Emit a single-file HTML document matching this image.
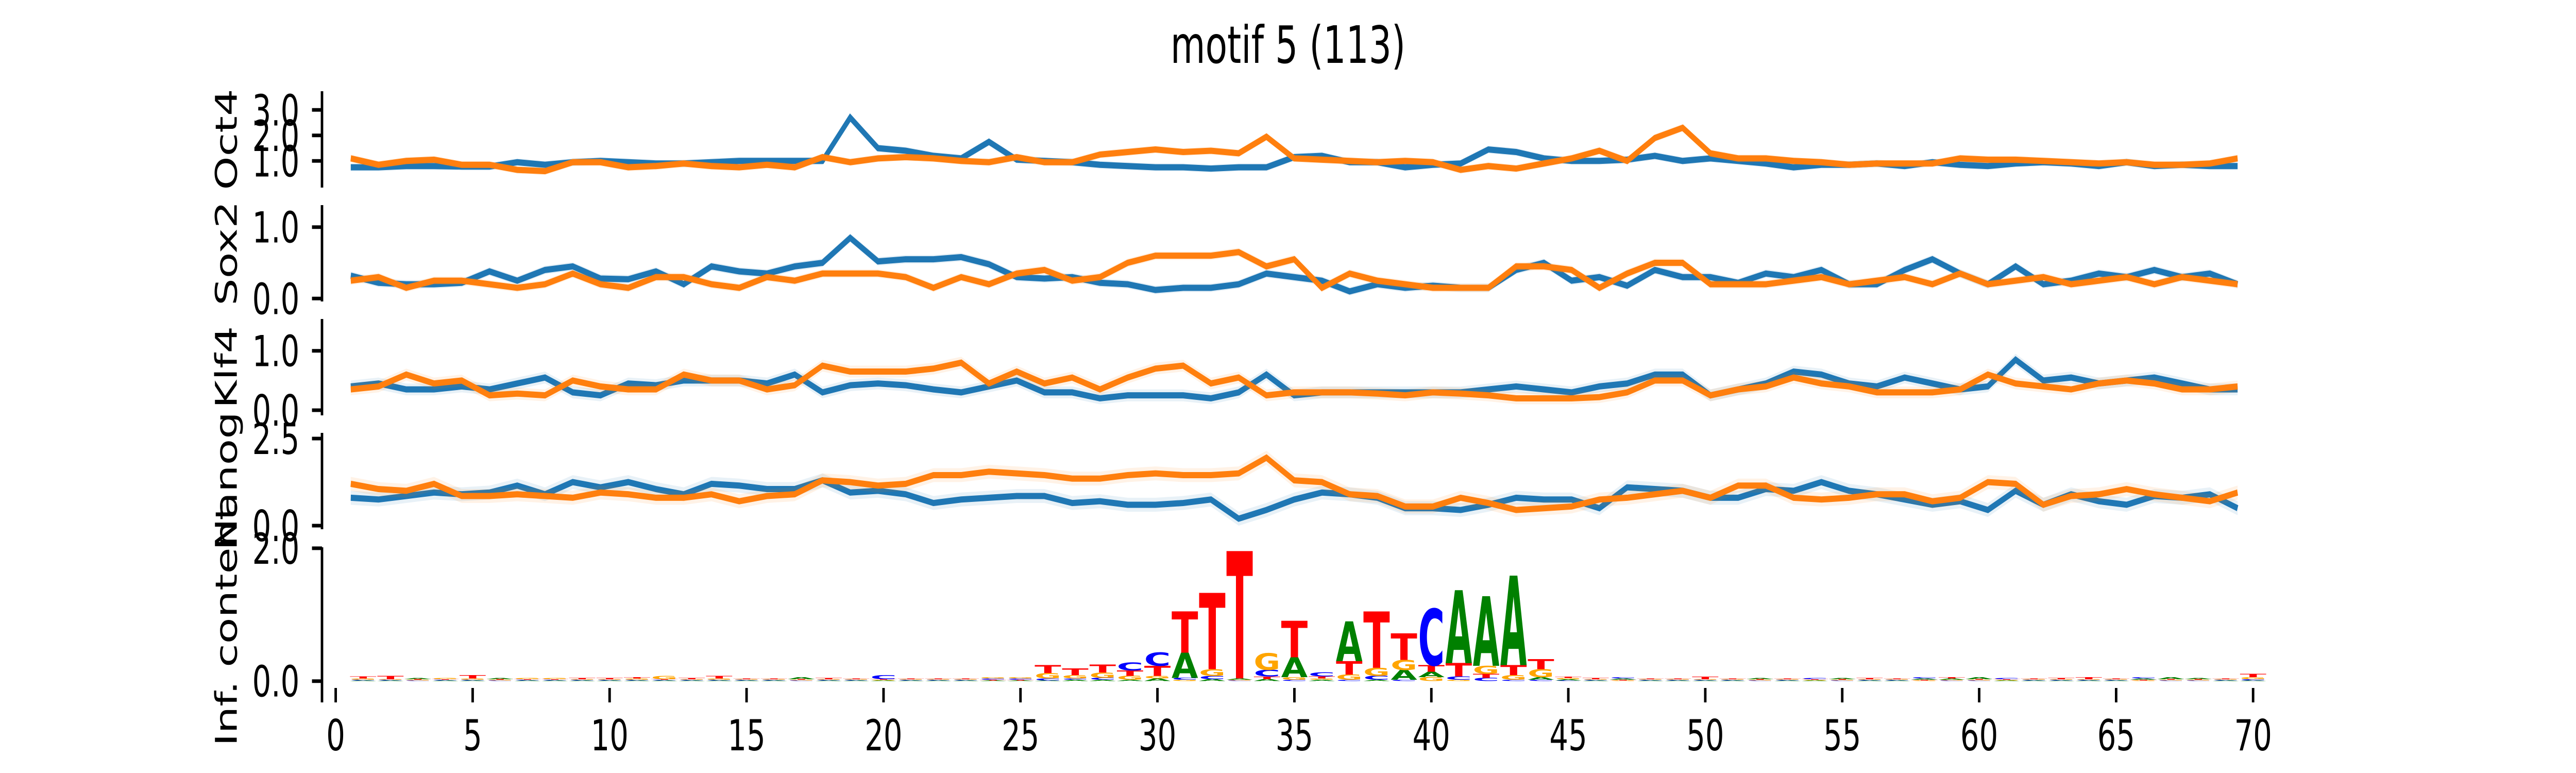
<!DOCTYPE html>
<html><head><meta charset="utf-8"><style>
html,body{margin:0;padding:0;background:#fff;overflow:hidden;width:100%;height:100%;}
svg{display:block;width:100vw;height:100vh;}
text{font-family:"DejaVu Sans","Liberation Sans",sans-serif;}
</style></head>
<body>
<svg id="fig" xmlns="http://www.w3.org/2000/svg" viewBox="0 0 7200 1500" preserveAspectRatio="none">
<rect width="7200" height="1500" fill="#fff"/>
<text x="3600" y="122" font-size="100" text-anchor="middle">motif 5 (113)</text>
<g id="axes"></g>
</svg>
<script>
// ---- line chart data (69 positions) ----
const oct4Blue=[0.75,0.75,0.8,0.8,0.78,0.78,0.95,0.85,0.95,1.0,
0.95,0.9,0.9,0.95,1.0,1.0,1.0,1.0,2.7,1.5,
1.4,1.2,1.1,1.75,1.05,1.0,0.95,0.85,0.8,0.75,
0.75,0.7,0.75,0.75,1.15,1.2,0.95,0.95,0.75,0.85,
0.9,1.45,1.35,1.1,1.0,1.0,1.05,1.2,1.0,1.1,
1.0,0.9,0.75,0.85,0.85,0.9,0.8,0.95,0.85,0.8,
0.9,0.95,0.9,0.8,0.95,0.8,0.85,0.8,0.8];
const oct4Orange=[1.1,0.85,1.0,1.05,0.85,0.85,0.65,0.6,0.95,0.95,
0.75,0.8,0.9,0.8,0.75,0.85,0.75,1.15,0.95,1.1,
1.15,1.1,1.0,0.95,1.15,0.95,0.95,1.25,1.35,1.45,
1.35,1.4,1.3,1.95,1.1,1.05,1.0,0.95,1.0,0.95,
0.65,0.8,0.7,0.9,1.1,1.4,1.0,1.9,2.3,1.3,
1.1,1.1,1.0,0.95,0.85,0.9,0.9,0.9,1.1,1.05,
1.05,1.0,0.95,0.9,0.95,0.85,0.85,0.9,1.1];
const sox2Blue=[0.32,0.22,0.2,0.2,0.22,0.38,0.25,0.4,0.45,0.28,
0.27,0.38,0.2,0.45,0.38,0.35,0.45,0.5,0.85,0.52,
0.55,0.55,0.58,0.48,0.3,0.28,0.3,0.22,0.2,0.12,
0.15,0.15,0.2,0.35,0.3,0.25,0.1,0.2,0.15,0.18,
0.15,0.15,0.4,0.5,0.25,0.3,0.18,0.4,0.3,0.3,
0.22,0.35,0.3,0.4,0.2,0.2,0.4,0.55,0.35,0.2,
0.45,0.2,0.25,0.35,0.3,0.4,0.3,0.35,0.2];
const sox2Orange=[0.25,0.3,0.15,0.25,0.25,0.2,0.15,0.2,0.35,0.2,
0.15,0.3,0.3,0.2,0.15,0.3,0.25,0.35,0.35,0.35,
0.3,0.15,0.3,0.2,0.35,0.4,0.25,0.3,0.5,0.6,
0.6,0.6,0.65,0.45,0.55,0.15,0.35,0.25,0.2,0.15,
0.15,0.15,0.45,0.45,0.4,0.15,0.35,0.5,0.5,0.2,
0.2,0.2,0.25,0.3,0.2,0.25,0.3,0.2,0.35,0.2,
0.25,0.3,0.2,0.25,0.3,0.2,0.3,0.25,0.2];
const klf4Blue=[0.4,0.45,0.35,0.35,0.4,0.35,0.45,0.55,0.3,0.25,
0.45,0.42,0.5,0.5,0.5,0.45,0.6,0.3,0.42,0.45,
0.42,0.35,0.3,0.4,0.5,0.3,0.3,0.2,0.25,0.25,
0.25,0.2,0.3,0.6,0.25,0.3,0.3,0.3,0.3,0.3,
0.3,0.35,0.4,0.35,0.3,0.4,0.45,0.6,0.6,0.25,
0.35,0.45,0.65,0.6,0.45,0.4,0.55,0.45,0.35,0.4,
0.85,0.5,0.55,0.45,0.5,0.55,0.45,0.35,0.35];
const klf4Orange=[0.35,0.4,0.6,0.45,0.5,0.25,0.28,0.25,0.5,0.4,
0.35,0.35,0.6,0.5,0.5,0.35,0.42,0.75,0.65,0.65,
0.65,0.7,0.8,0.45,0.65,0.45,0.55,0.35,0.55,0.7,
0.75,0.45,0.55,0.25,0.3,0.3,0.3,0.28,0.25,0.3,
0.28,0.25,0.2,0.2,0.2,0.22,0.3,0.5,0.5,0.25,
0.35,0.4,0.55,0.45,0.4,0.3,0.3,0.3,0.35,0.6,
0.45,0.4,0.35,0.45,0.5,0.45,0.35,0.35,0.4];
const nanogBlue=[0.8,0.75,0.85,0.95,0.9,0.95,1.15,0.9,1.25,1.1,
1.25,1.05,0.9,1.2,1.15,1.05,1.05,1.3,0.95,1.0,
0.9,0.65,0.75,0.8,0.85,0.85,0.65,0.7,0.6,0.6,
0.65,0.75,0.2,0.45,0.75,0.95,0.9,0.8,0.5,0.5,
0.45,0.6,0.8,0.75,0.75,0.5,1.1,1.05,1.0,0.8,
0.8,1.05,1.0,1.25,1.0,0.9,0.75,0.6,0.7,0.45,
1.0,0.6,0.9,0.7,0.6,0.85,0.8,0.9,0.5];
const nanogOrange=[1.2,1.05,1.0,1.2,0.85,0.85,0.9,0.85,0.8,0.95,
0.9,0.8,0.8,0.9,0.7,0.85,0.9,1.3,1.25,1.15,
1.2,1.45,1.45,1.55,1.5,1.45,1.35,1.35,1.45,1.5,
1.45,1.45,1.5,1.95,1.3,1.25,0.9,0.85,0.55,0.55,
0.8,0.65,0.45,0.5,0.55,0.75,0.8,0.9,1.0,0.8,
1.15,1.15,0.8,0.75,0.8,0.9,0.9,0.7,0.8,1.25,
1.2,0.6,0.85,0.9,1.05,0.9,0.8,0.7,0.95];
const bandErr=[0.15,0.06,0.1,0.2];
// ---- logo data (positions 1..70), bits per letter ----
const logoA=[.01,.01,.02,.01,.01,.02,.01,.01,.01,.01,
.01,.01,.01,.01,.01,.01,.03,.01,.01,.01,
.01,.01,.01,.01,.01,.01,.02,.02,.02,.04,
.38,.03,.02,.03,.3,.02,.6,.02,.15,.08,
1.1,1.05,1.35,.04,.02,.01,.02,.01,.01,.01,
.01,.02,.01,.01,.02,.01,.01,.02,.02,.03,
.01,.01,.01,.01,.01,.02,.03,.02,.01,.01];
const logoC=[.01,.01,.01,.01,.01,.01,.01,.01,.01,.01,
.01,.01,.01,.01,.01,.01,.01,.01,.01,.06,
.01,.01,.01,.02,.02,.03,.02,.03,.12,.2,
.03,.05,.01,.1,.02,.06,.02,.06,.02,.85,
.05,.05,.02,.02,.01,.01,.02,.01,.01,.01,
.01,.01,.01,.02,.01,.01,.01,.02,.01,.01,
.02,.01,.01,.01,.01,.02,.01,.01,.01,.02];
const logoG=[.02,.01,.01,.02,.02,.01,.02,.02,.01,.01,
.02,.05,.01,.02,.01,.01,.01,.01,.01,.01,
.01,.01,.01,.02,.02,.08,.05,.08,.06,.04,
.02,.1,.01,.25,.04,.02,.08,.12,.15,.06,
.02,.12,.07,.12,.02,.01,.01,.01,.01,.01,
.01,.01,.01,.01,.01,.01,.01,.01,.01,.01,
.01,.01,.01,.01,.01,.01,.01,.01,.01,.03];
const logoT=[.03,.05,.01,.01,.05,.01,.01,.01,.02,.02,
.02,.01,.02,.04,.01,.01,.01,.02,.01,.01,
.01,.01,.01,.01,.01,.12,.10,.12,.08,.15,
.62,1.15,1.92,.04,.55,.03,.2,.85,.4,.1,
.2,.06,.15,.15,.02,.02,.01,.01,.01,.04,
.01,.01,.01,.01,.01,.02,.01,.01,.02,.01,
.01,.01,.02,.03,.01,.01,.01,.01,.01,.05];
const xTicks=[0,5,10,15,20,25,30,35,40,45,50,55,60,65,70];

const NS='http://www.w3.org/2000/svg';
const root=document.getElementById('axes');
function mk(tag,attrs,parent){const e=document.createElementNS(NS,tag);for(const k in attrs)e.setAttribute(k,attrs[k]);(parent||root).appendChild(e);return e;}
const SPINE=900, PPX=76.56, XMIN=-0.5;
const xs=v=>SPINE+PPX*(v-XMIN);
const linePos=i=>0.55+i*1.013;

const panels=[
 {name:'oct4',label:'Oct4',zero:361.8,ppu:49.5,top:177,bot:364,ticks:[1,2,3],lab:['1.0','2.0','3.0'],blue:oct4Blue,orange:oct4Orange,err:bandErr[0]},
 {name:'sox2',label:'Sox2',zero:579.3,ppu:138.6,top:398,bot:585,ticks:[0,1],lab:['0.0','1.0'],blue:sox2Blue,orange:sox2Orange,err:bandErr[1]},
 {name:'klf4',label:'Klf4',zero:796,ppu:115.3,top:619,bot:806,ticks:[0,1],lab:['0.0','1.0'],blue:klf4Blue,orange:klf4Orange,err:bandErr[2]},
 {name:'nanog',label:'Nanog',zero:1020,ppu:67.6,top:840,bot:1027,ticks:[0,2.5],lab:['0.0','2.5'],blue:nanogBlue,orange:nanogOrange,err:bandErr[3]},
];
function yAxis(p){
  const g=mk('g',{});
  
  
  mk('line',{x1:SPINE,x2:SPINE,y1:p.top,y2:p.bot,stroke:'#000','stroke-width':7},g);
  p.ticks.forEach((t,k)=>{
    const y=p.zero-t*p.ppu;
    mk('line',{x1:SPINE-28,x2:SPINE,y1:y,y2:y,stroke:'#000','stroke-width':7},g);
    const tx=mk('text',{x:837,y:y+30,'font-size':83,'text-anchor':'end'},g);
    tx.textContent=p.lab[k];
    
    
  });
  const cy=(p.top+p.bot)/2;
  const lb=mk('text',{x:0,y:0,'font-size':83,'text-anchor':'middle',transform:`translate(662,${cy}) rotate(-90)`},g);
  lb.textContent=p.label;
  
  
}
function series(p,vals,color,fill,nm){
  const g=mk('g',{});
  
  
  const up=vals.map((v,i)=>[xs(linePos(i)),p.zero-(v+p.err)*p.ppu]);
  const dn=vals.map((v,i)=>[xs(linePos(i)),p.zero-(v-p.err)*p.ppu]).reverse();
  const band=mk('polygon',{points:up.concat(dn).map(q=>q.join(',')).join(' '),fill:fill},g);
  
  
  const ln=mk('polyline',{points:vals.map((v,i)=>xs(linePos(i))+','+(p.zero-v*p.ppu)).join(' '),fill:'none',stroke:color,'stroke-width':12,'stroke-linejoin':'miter'},g);
  
  
}
panels.forEach(p=>{
  yAxis(p);
  series(p,p.blue,'#1f77b4','rgba(31,119,180,0.1)','blue');
  series(p,p.orange,'#ff7f0e','rgba(255,127,14,0.1)','orange');
});

// logo panel
const L={name:'logo',label:'Inf. content',zero:1321.7,ppu:128.9,top:1062,bot:1363,ticks:[0,2],lab:['0.0','2.0']};
yAxis(L);
const lg=mk('g',{});


const letters=['A','C','G','T'];
const colors={A:'#008000',C:'#0000ff',G:'#ffa500',T:'#ff0000'};
const arrs={A:logoA,C:logoC,G:logoG,T:logoT};
const W=PPX*0.97;
for(let i=0;i<70;i++){
  const pos=i+1;
  const stack=letters.map(l=>[l,arrs[l][i]]).sort((a,b)=>a[1]-b[1]);
  let base=L.zero;
  stack.forEach(([l,h])=>{
    const hp=h*L.ppu;
    if(hp>0.4){
      const t=mk('text',{x:0,y:0,'font-size':100,'font-weight':'bold',fill:colors[l],textLength:W,lengthAdjust:'spacingAndGlyphs',transform:`translate(${xs(pos)-W/2},${base}) scale(1,${hp/73})`},lg);
      t.textContent=l;
      
      
    }
    base-=hp;
  });
}
// x axis
const xg=mk('g',{});


xTicks.forEach(t=>{
  mk('line',{x1:xs(t),x2:xs(t),y1:1335,y2:1363,stroke:'#000','stroke-width':7},xg);
  const tx=mk('text',{x:xs(t),y:1456,'font-size':83,'text-anchor':'middle'},xg);
  tx.textContent=String(t);
  
  
});
</script>
</body></html>
